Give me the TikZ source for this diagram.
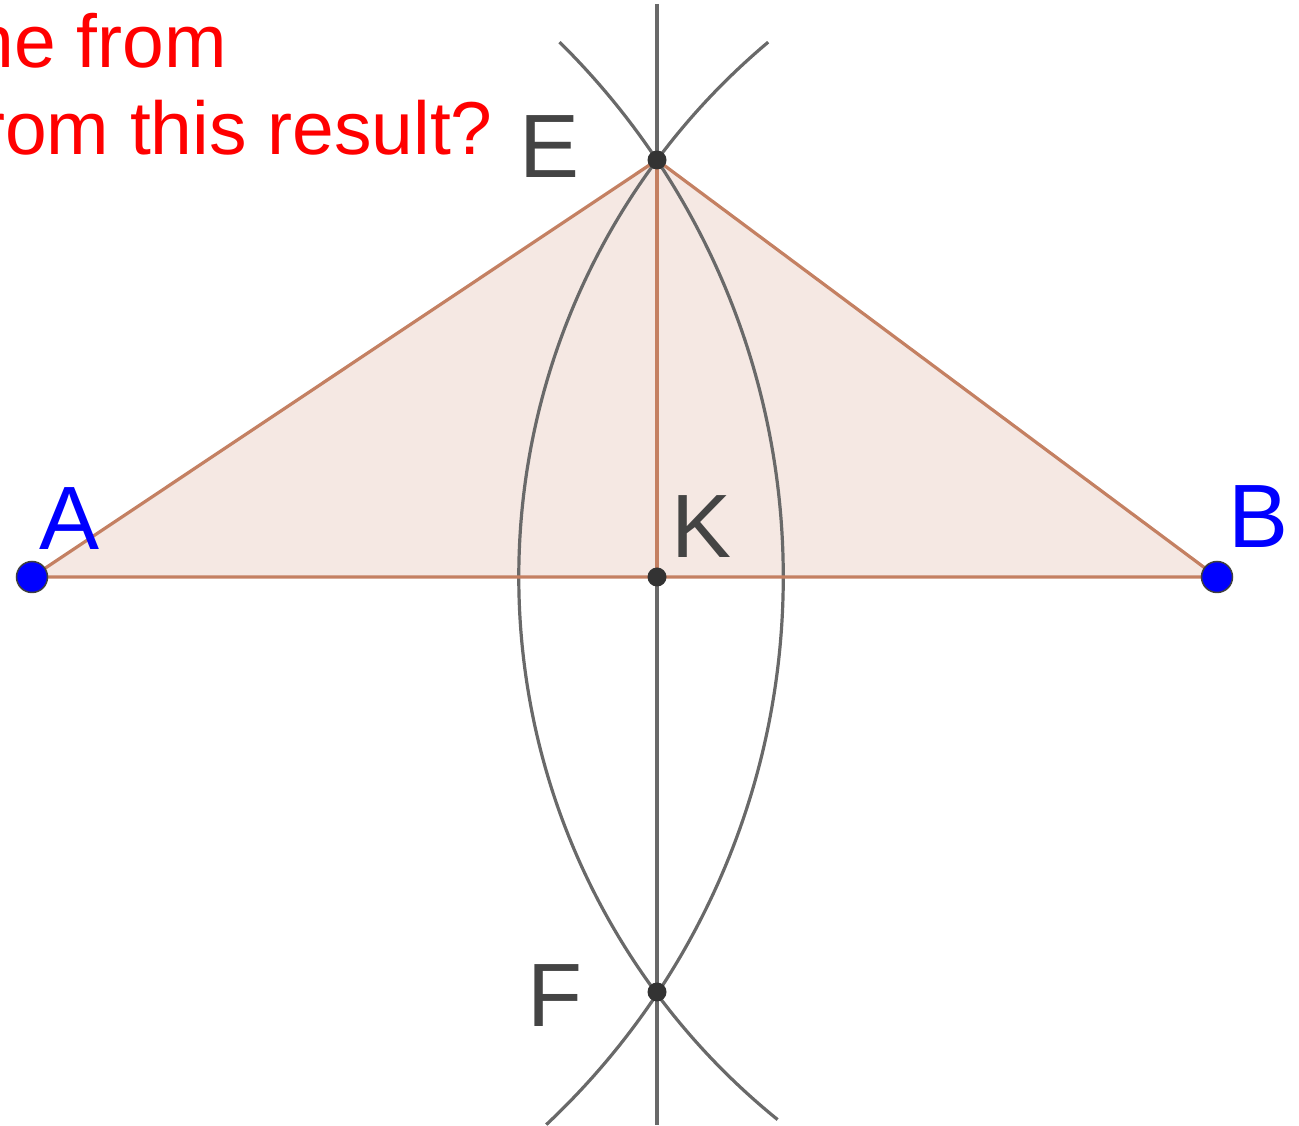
\documentclass[tikz,border=0pt]{standalone}
\usepackage{fontspec}
\setmainfont{Liberation Sans}
\definecolor{edgec}{RGB}{196,128,98}
\definecolor{fillc}{RGB}{245,232,227}
\definecolor{arcc}{RGB}{105,105,105}
\definecolor{labc}{RGB}{68,68,68}
\definecolor{ptblue}{RGB}{0,0,255}
\tikzset{
  arcline/.style={arcc, line width=3.2pt},
  triedge/.style={edgec, line width=3.2pt},
  bluedot/.style={circle, fill=ptblue, draw=black!75, line width=1.5pt, inner sep=0pt, minimum size=31pt},
  darkdot/.style={circle, fill=black!80, inner sep=0pt, minimum size=19pt},
  ptlabel/.style={inner sep=0pt, anchor=base, font=\fontsize{90}{90}\selectfont, labc},
  question/.style={inner sep=0pt, anchor=base east, red, font=\fontsize{75}{87}\selectfont},
}
\begin{document}
\begin{tikzpicture}[x=1pt,y=1pt]
  \useasboundingbox (0,0) rectangle (1299,1125);
  % points of the construction
  \coordinate (A) at (32,548);
  \coordinate (B) at (1217,548);
  \coordinate (K) at (657,548);
  \coordinate (E) at (657,965);
  \coordinate (F) at (657,133);
  \coordinate (top) at (657,1121);
  \coordinate (bot) at (657,0);
  % shaded triangle AEB
  \fill[fillc] (A) -- (E) -- (B) -- cycle;
  % perpendicular bisector
  \draw[arcc, line width=3.4pt] (top) -- (bot);
  % compass arcs (centre A through E, centre B through E)
  \draw[arcline] (A) ++(-46.8:751.3) arc[start angle=-46.8, end angle=45.4, radius=751.3];
  \draw[arcline] (B) ++(130:698.2) arc[start angle=130, end angle=231, radius=698.2];
  % triangle sides and height
  \draw[triedge] (A) -- (E) -- (B) -- cycle;
  \draw[triedge] (E) -- (K);
  % dots
  \node[bluedot] (dotA) at (A) {};
  \node[bluedot] (dotB) at (B) {};
  \node[darkdot] (dotE) at (E) {};
  \node[darkdot] (dotK) at (K) {};
  \node[darkdot] (dotF) at (F) {};
  % labels
  \node[ptlabel, ptblue] (labA) at (70,575) {A};
  \node[ptlabel, ptblue] (labB) at (1259,577) {B};
  \node[ptlabel] (labE) at (550,947) {E};
  \node[ptlabel] (labK) at (701.5,567) {K};
  \node[ptlabel] (labF) at (554.5,98) {F};
  % question text, cut at the left edge
  \node[question] (qa) at (227,1057) {ne from};
  \node[question] (qb) at (493,970) {rom this result?};
\end{tikzpicture}
\end{document}
